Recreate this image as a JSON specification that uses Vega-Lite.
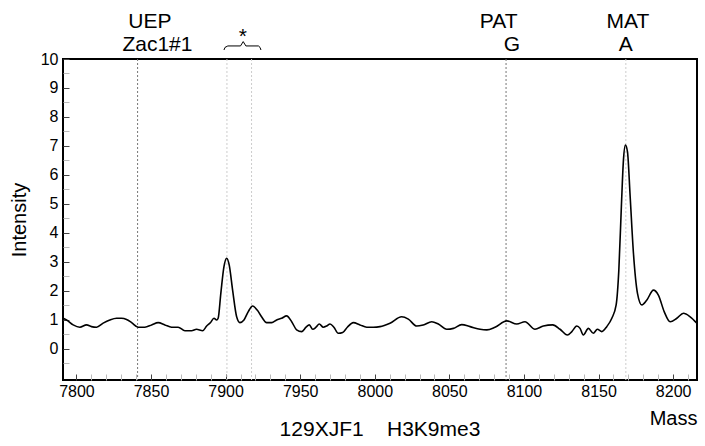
{
  "$schema": "https://vega.github.io/schema/vega-lite/v6.json",
  "width": 634,
  "height": 321,
  "autosize": {"type": "none"},
  "padding": {"left": 63, "top": 59, "right": 8, "bottom": 66},
  "config": {
    "view": {"stroke": "black", "strokeWidth": 2},
    "font": "Liberation Sans",
    "axis": {"domain": false, "grid": false, "labelFont": "Liberation Sans", "titleFont": "Liberation Sans", "labelColor": "black", "titleColor": "black", "titleFontWeight": "normal"}
  },
  "title": {"text": "129XJF1\u00a0\u00a0\u00a0\u00a0H3K9me3", "orient": "bottom", "anchor": "middle", "fontSize": 21, "fontWeight": "normal", "font": "Liberation Sans", "color": "black", "offset": -9},
  "resolve": {"axis": {"x": "independent", "y": "independent"}},
  "layer": [
    {
      "data": {"values": [
        {"m": 7841, "g": "a"}, {"m": 7900.9, "g": "b"}, {"m": 7917.4, "g": "b"}, {"m": 8088, "g": "a"}, {"m": 8168.3, "g": "b"}
      ]},
      "mark": {"type": "rule", "strokeDash": [2, 2], "strokeWidth": 1},
      "encoding": {
        "x": {"field": "m", "type": "quantitative", "scale": {"domain": [7791, 8216], "nice": false, "zero": false},
          "axis": {
            "orient": "bottom",
            "values": [7810,7820,7830,7840,7860,7870,7880,7890,7910,7920,7930,7940,7960,7970,7980,7990,8010,8020,8030,8040,8060,8070,8080,8090,8110,8120,8130,8140,8160,8170,8180,8190,8210],
            "labels": false, "tickSize": -6, "tickColor": "#bbbbbb", "title": null
          }},
        "color": {"field": "g", "type": "nominal", "scale": {"domain": ["a", "b"], "range": ["#777777", "#cccccc"]}, "legend": null}
      }
    },
    {
      "data": {"values": [
        {"m":7791.1,"v":1.06},{"m":7793.4,"v":1.00},{"m":7797.8,"v":0.83},{"m":7802.3,"v":0.75},{"m":7806.8,"v":0.83},{"m":7810.1,"v":0.77},{"m":7813.5,"v":0.75},{"m":7817.9,"v":0.89},{"m":7822.4,"v":1.00},{"m":7826.9,"v":1.06},{"m":7830.2,"v":1.06},{"m":7833.6,"v":1.02},{"m":7837.0,"v":0.91},{"m":7841.4,"v":0.75},{"m":7845.9,"v":0.75},{"m":7850.4,"v":0.83},{"m":7854.8,"v":0.91},{"m":7859.3,"v":0.83},{"m":7863.8,"v":0.75},{"m":7868.2,"v":0.75},{"m":7872.7,"v":0.63},{"m":7877.2,"v":0.63},{"m":7880.5,"v":0.68},{"m":7884.6,"v":0.63},{"m":7887.3,"v":0.79},{"m":7889.9,"v":0.91},{"m":7892.2,"v":1.06},{"m":7894.0,"v":1.00},{"m":7895.0,"v":1.06},{"m":7896.8,"v":1.92},{"m":7898.9,"v":2.84},{"m":7900.7,"v":3.13},{"m":7902.4,"v":2.90},{"m":7904.7,"v":2.03},{"m":7907.4,"v":1.11},{"m":7909.6,"v":0.91},{"m":7912.3,"v":1.00},{"m":7915.2,"v":1.29},{"m":7918.1,"v":1.48},{"m":7921.2,"v":1.34},{"m":7924.1,"v":1.11},{"m":7927.5,"v":0.91},{"m":7930.9,"v":0.91},{"m":7934.2,"v":1.00},{"m":7937.6,"v":1.06},{"m":7940.9,"v":1.14},{"m":7944.3,"v":0.94},{"m":7947.6,"v":0.66},{"m":7951.0,"v":0.60},{"m":7953.9,"v":0.75},{"m":7956.1,"v":0.83},{"m":7958.4,"v":0.68},{"m":7960.6,"v":0.75},{"m":7962.8,"v":0.86},{"m":7965.5,"v":0.75},{"m":7967.7,"v":0.79},{"m":7970.0,"v":0.86},{"m":7972.6,"v":0.75},{"m":7975.5,"v":0.54},{"m":7978.5,"v":0.57},{"m":7981.6,"v":0.75},{"m":7985.6,"v":0.91},{"m":7990.1,"v":0.83},{"m":7994.6,"v":0.75},{"m":7999.0,"v":0.75},{"m":8003.5,"v":0.77},{"m":8010.2,"v":0.89},{"m":8018.0,"v":1.11},{"m":8022.5,"v":1.03},{"m":8028.1,"v":0.79},{"m":8032.5,"v":0.83},{"m":8038.2,"v":0.94},{"m":8042.6,"v":0.86},{"m":8048.2,"v":0.68},{"m":8052.7,"v":0.71},{"m":8058.3,"v":0.84},{"m":8063.9,"v":0.77},{"m":8070.6,"v":0.68},{"m":8075.1,"v":0.66},{"m":8080.6,"v":0.75},{"m":8088.5,"v":0.97},{"m":8095.2,"v":0.86},{"m":8100.7,"v":0.94},{"m":8107.4,"v":0.68},{"m":8113.0,"v":0.79},{"m":8119.3,"v":0.83},{"m":8124.2,"v":0.68},{"m":8129.1,"v":0.48},{"m":8132.1,"v":0.60},{"m":8135.4,"v":0.79},{"m":8137.6,"v":0.71},{"m":8139.8,"v":0.48},{"m":8143.2,"v":0.71},{"m":8146.5,"v":0.54},{"m":8149.2,"v":0.68},{"m":8152.2,"v":0.60},{"m":8155.5,"v":0.77},{"m":8158.9,"v":1.06},{"m":8161.8,"v":1.52},{"m":8163.6,"v":2.72},{"m":8165.3,"v":4.91},{"m":8166.7,"v":6.52},{"m":8168.0,"v":7.03},{"m":8169.4,"v":6.80},{"m":8171.2,"v":5.25},{"m":8173.4,"v":3.30},{"m":8176.1,"v":1.92},{"m":8179.0,"v":1.52},{"m":8182.4,"v":1.69},{"m":8186.8,"v":2.03},{"m":8190.1,"v":1.86},{"m":8194.0,"v":1.29},{"m":8198.0,"v":0.94},{"m":8202.5,"v":1.06},{"m":8206.9,"v":1.23},{"m":8211.4,"v":1.11},{"m":8215.9,"v":0.89}
      ]},
      "mark": {"type": "line", "interpolate": "monotone", "color": "black", "strokeWidth": 1.6},
      "encoding": {
        "x": {"field": "m", "type": "quantitative",
          "axis": {
            "orient": "bottom",
            "values": [7800,7850,7900,7950,8000,8050,8100,8150,8200],
            "format": "d", "tickSize": -6, "tickColor": "#444444",
            "labelPadding": 9, "labelFontSize": 16, "labelFlush": false, "labelOverlap": false,
            "title": "Mass", "titleAnchor": "end", "titleFontSize": 20, "titlePadding": 9
          }},
        "y": {"field": "v", "type": "quantitative", "scale": {"domain": [-1.07, 10], "nice": false, "zero": false},
          "axis": {
            "orient": "left",
            "values": [0,1,2,3,4,5,6,7,8,9,10],
            "format": "d", "tickSize": -6, "tickColor": "#444444",
            "labelPadding": 11, "labelFontSize": 16, "labelFlush": false, "labelOverlap": false,
            "title": "Intensity", "titleFontSize": 20, "titlePadding": 11
          }}
      }
    },
    {
      "data": {"values": [
        {"m": 7849.2, "v": 11.07, "t": "UEP"},
        {"m": 7854.3, "v": 10.26, "t": "Zac1#1"},
        {"m": 7911.6, "v": 10.55, "t": "*"},
        {"m": 8083.0, "v": 11.07, "t": "PAT"},
        {"m": 8092.0, "v": 10.26, "t": "G"},
        {"m": 8169.7, "v": 11.07, "t": "MAT"},
        {"m": 8168.3, "v": 10.26, "t": "A"}
      ]},
      "mark": {"type": "text", "align": "center", "baseline": "alphabetic", "fontSize": 21, "font": "Liberation Sans", "color": "black"},
      "encoding": {
        "x": {"field": "m", "type": "quantitative", "axis": null},
        "y": {"field": "v", "type": "quantitative",
          "axis": {
            "orient": "left",
            "values": [-0.5,0.5,1.5,2.5,3.5,4.5,5.5,6.5,7.5,8.5,9.5],
            "labels": false, "tickSize": -6, "tickColor": "#bbbbbb", "title": null
          }},
        "text": {"field": "t"}
      }
    },
    {
      "data": {"values": [
        {"m": 7898.9, "v": 10.31}, {"m": 7899.6, "v": 10.40}, {"m": 7901.5, "v": 10.45}, {"m": 7910.0, "v": 10.45}, {"m": 7911.8, "v": 10.60}, {"m": 7913.6, "v": 10.45}, {"m": 7922.0, "v": 10.45}, {"m": 7923.1, "v": 10.40}, {"m": 7923.7, "v": 10.31}
      ]},
      "mark": {"type": "line", "color": "black", "strokeWidth": 1},
      "encoding": {
        "x": {"field": "m", "type": "quantitative", "axis": null},
        "y": {"field": "v", "type": "quantitative", "axis": null}
      }
    }
  ]
}
